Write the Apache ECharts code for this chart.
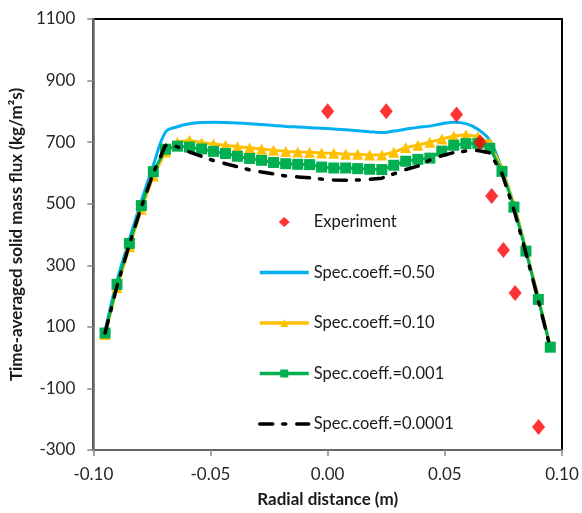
<!DOCTYPE html>
<html>
<head>
<meta charset="utf-8">
<script src="https://cdn.jsdelivr.net/npm/echarts@6/dist/echarts.min.js"></script>
<style>
  html, body { margin: 0; padding: 0; background: #fff; }
  #chart { width: 582px; height: 513px; }
</style>
</head>
<body>
<div id="chart"></div>
<script>
// Radial positions of the simulated profiles (m)
const radialPos = [
  -0.0950, -0.0899, -0.0846, -0.0795, -0.0744, -0.0692, -0.0641, -0.0590,
  -0.0538, -0.0487, -0.0436, -0.0385, -0.0333, -0.0282, -0.0231, -0.0179,
  -0.0128, -0.0077, -0.0026, 0.0026, 0.0077, 0.0128, 0.0179, 0.0231,
  0.0282, 0.0333, 0.0385, 0.0436, 0.0487, 0.0538, 0.0590, 0.0641,
  0.0692, 0.0744, 0.0795, 0.0846, 0.0899, 0.0950
];

// Time-averaged solid mass flux (kg/m2s) for each specularity coefficient
const flux050 = [
  88, 250, 385, 510, 625, 733, 750, 760, 764, 765, 764, 762, 760, 757, 754, 751,
  749, 747, 745, 743, 740, 737, 734, 731, 736, 742, 748, 752, 760, 765, 760, 742,
  706, 612, 495, 350, 193, 35
];
const flux010 = [
  75, 228, 360, 482, 590, 668, 700, 706, 698, 694, 690, 685, 682, 678, 674, 670,
  668, 667, 665, 664, 661, 661, 658, 658, 667, 683, 690, 700, 710, 720, 724, 718,
  698, 612, 497, 352, 196, 36
];
const flux0010 = [
  80, 238, 371, 494, 604, 677, 687, 684, 678, 670, 663, 654, 647, 641, 634, 630,
  628, 627, 619, 616, 616, 614, 612, 611, 625, 638, 644, 648, 671, 690, 695, 696,
  680, 605, 489, 346, 189, 34
];
const flux00001 = [
  80, 232, 368, 490, 600, 690, 685, 668, 654, 640, 630, 620, 610, 603, 597, 590,
  587, 584, 580, 577, 576, 577, 579, 583, 597, 611, 622, 642, 656, 666, 671, 673,
  665, 598, 480, 340, 185, 32
];

// Measured values
const expPos  = [0.000, 0.025, 0.055, 0.065, 0.070, 0.075, 0.080, 0.090];
const expFlux = [800, 800, 790, 700, 525, 350, 210, -225];

// Axis ticks
const xTicks = { min: -0.10, max: 0.10, step: 0.05 };
const yTicks = { min: -300, max: 1100, step: 200 };

const seriesNames = [
  'Experiment',
  'Spec.coeff.=0.50',
  'Spec.coeff.=0.10',
  'Spec.coeff.=0.001',
  'Spec.coeff.=0.0001'
];

const pair = (xs, ys) => xs.map((x, i) => [x, ys[i]]);

const FONT = 'Lato';
const chart = echarts.init(document.getElementById('chart'), null, { renderer: 'canvas' });

// Line-only entries hide the marker that the legend would otherwise add
const hiddenMarker = { opacity: 0 };
// Diamond centred in a box as wide as the legend swatch, so it is not stretched
const legendDiamond = 'path://M0,0M49,10M24.5,0L30,5L24.5,10L19,5Z';

chart.setOption({
  animation: false,
  backgroundColor: '#ffffff',
  grid: {
    left: 92, right: 20, top: 19, bottom: 63,
    show: true, borderColor: '#000000', borderWidth: 2, backgroundColor: 'transparent'
  },
  legend: {
    orient: 'vertical',
    left: 258,
    top: 212,
    padding: 0,
    itemWidth: 49,
    itemHeight: 10,
    itemGap: 30.5,
    data: [
      { name: seriesNames[0], icon: legendDiamond },
      { name: seriesNames[1], itemStyle: hiddenMarker },
      { name: seriesNames[2] },
      { name: seriesNames[3] },
      { name: seriesNames[4], itemStyle: hiddenMarker }
    ],
    lineStyle: { width: 3.5 },
    textStyle: { fontFamily: FONT, fontSize: 16.5, color: '#1a1a1a', lineHeight: 20 }
  },
  xAxis: {
    type: 'value',
    min: xTicks.min, max: xTicks.max, interval: xTicks.step,
    z: 3,
    name: 'Radial distance (m)',
    nameLocation: 'middle',
    nameGap: 41,
    nameTextStyle: { fontFamily: FONT, fontSize: 17, fontWeight: 'bold', color: '#1a1a1a' },
    axisLine: { onZero: false, lineStyle: { color: '#868686', width: 1.5 } },
    axisTick: { show: true, length: 6, lineStyle: { color: '#868686', width: 1.5 } },
    axisLabel: {
      margin: 16, fontFamily: FONT, fontSize: 17, color: '#262626',
      formatter: v => v.toFixed(2)
    },
    splitLine: { show: false }
  },
  yAxis: {
    type: 'value',
    min: yTicks.min, max: yTicks.max, interval: yTicks.step,
    z: 3,
    name: 'Time-averaged solid mass flux (kg/m\u00B2s)',
    nameLocation: 'middle',
    nameGap: 62,
    nameTextStyle: { fontFamily: FONT, fontSize: 17, fontWeight: 'bold', color: '#1a1a1a' },
    axisLine: { show: true, onZero: false, lineStyle: { color: '#868686', width: 1.5 } },
    axisTick: { show: true, length: 6, lineStyle: { color: '#868686', width: 1.5 } },
    axisLabel: {
      margin: 18, fontFamily: FONT, fontSize: 17, color: '#262626',
      formatter: v => String(v)
    },
    splitLine: { show: false }
  },
  series: [
    {
      name: seriesNames[0],
      type: 'scatter',
      data: pair(expPos, expFlux),
      symbol: 'diamond',
      symbolSize: [13, 16],
      itemStyle: { color: '#ff0000' },
      z: 8
    },
    {
      name: seriesNames[1],
      type: 'line',
      data: pair(radialPos, flux050),
      smooth: 0.35,
      showSymbol: false,
      symbol: 'none',
      lineStyle: { color: '#00b0f0', width: 3 },
      itemStyle: { color: '#00b0f0' },
      z: 3
    },
    {
      name: seriesNames[2],
      type: 'line',
      data: pair(radialPos, flux010),
      symbol: 'triangle',
      symbolSize: 11,
      lineStyle: { color: '#ffc000', width: 3 },
      itemStyle: { color: '#ffc000' },
      z: 4
    },
    {
      name: seriesNames[3],
      type: 'line',
      data: pair(radialPos, flux0010),
      symbol: 'rect',
      symbolSize: 11,
      lineStyle: { color: '#00b050', width: 3 },
      itemStyle: { color: '#00b050' },
      z: 5
    },
    {
      name: seriesNames[4],
      type: 'line',
      data: pair(radialPos, flux00001),
      symbol: 'none',
      showSymbol: false,
      lineStyle: { color: '#000000', width: 3.5, type: [13, 10, 3, 11], cap: 'round' },
      itemStyle: { color: '#000000' },
      z: 6
    }
  ]
});
</script>
</body>
</html>
